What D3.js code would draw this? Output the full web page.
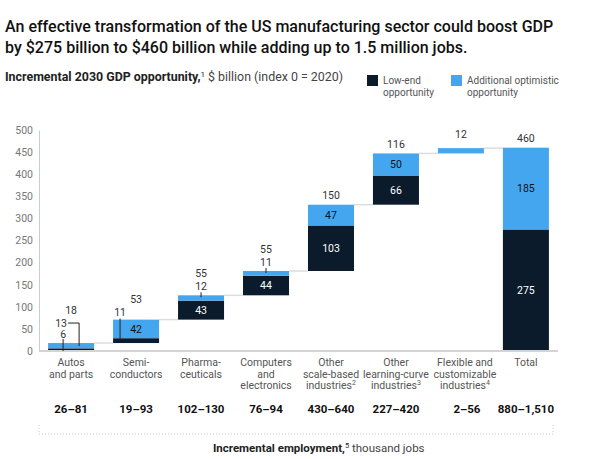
<!DOCTYPE html>
<html><head><meta charset="utf-8">
<script src="https://cdn.jsdelivr.net/npm/d3@7"></script>
<style>
body{margin:0;background:#fff;}
svg{display:block;font-family:Roboto,"Liberation Sans",Arial,sans-serif;}
</style></head>
<body><svg id="c" width="600" height="459"></svg>
<script>
// ---- data ----
const categories = ["Autos and parts","Semiconductors","Pharmaceuticals","Computers and electronics","Other scale-based industries","Other learning-curve industries","Flexible and customizable industries","Total"];
const categoryLines = [["Autos","and parts"],["Semi-","conductors"],["Pharma-","ceuticals"],["Computers","and","electronics"],["Other","scale-based","industries|2"],["Other","learning-curve","industries|3"],["Flexible and","customizable","industries|4"],["Total"]];
const lowEnd = [6, 11, 43, 44, 103, 66, 0, 275];
const optimistic = [13, 42, 12, 11, 47, 50, 12, 185];
const totals = [18, 53, 55, 55, 150, 116, 12, 460];
const employment = ["26–81","19–93","102–130","76–94","430–640","227–420","2–56","880–1,510"];
const yTicks = [0,50,100,150,200,250,300,350,400,450,500];

const DARK = "#0b1b2c", BLUE = "#45a6f0";
const svg = d3.select("#c");

// ---- titles ----
const title = svg.append("text").attr("x",5).attr("font-size",17).attr("font-weight",500).attr("fill","#111");
const t1 = title.append("tspan").attr("x",5).attr("y",32).text("An effective transformation of the US manufacturing sector could boost GDP");
title.append("tspan").attr("x",5).attr("y",53).text("by $275 billion to $460 billion while adding up to 1.5 million jobs.");
const w1 = t1.node().getComputedTextLength();
title.attr("font-size", 17*549/w1);

const sub = svg.append("text").attr("x",5).attr("y",81).attr("font-size",12.4).attr("fill","#222");
sub.append("tspan").attr("font-weight",700).text("Incremental 2030 GDP opportunity,");
sub.append("tspan").attr("font-size",8).attr("dy",-4).text("1");
sub.append("tspan").attr("dy",4).attr("fill","#444").text(" $ billion (index 0 = 2020)");

// legend
const legend = [{c:DARK,l:["Low-end","opportunity"],x:367},{c:BLUE,l:["Additional optimistic","opportunity"],x:451}];
legend.forEach(d=>{
  svg.append("rect").attr("x",d.x).attr("y",75).attr("width",11).attr("height",11).attr("fill",d.c);
  const t = svg.append("text").attr("font-size",10).attr("fill","#555");
  d.l.forEach((s,i)=>t.append("tspan").attr("x",d.x+16).attr("y",84+i*12).text(s));
});

// ---- scales ----
const x = d3.scaleBand().domain(categories).range([39,558]).paddingInner(0.292).paddingOuter(0.14);
const y = d3.scaleLinear().domain([0,500]).range([351,130]);

// y axis
const yAxis = svg.append("g").attr("transform","translate(39,0)")
  .call(d3.axisLeft(y).tickValues(yTicks).tickSize(0).tickPadding(6));
yAxis.select(".domain").attr("stroke","#ccc");
yAxis.selectAll("text").attr("font-size",10.5).attr("fill","#777").attr("font-family","Roboto,Arial,sans-serif");

// bases (waterfall)
const bases = totals.map((d,i)=> i===totals.length-1 ? 0 : d3.sum(totals.slice(0,i)));
const rows = categories.map((c,i)=>({c,i,base:bases[i],low:lowEnd[i],top:bases[i]+totals[i]}));

// connectors
svg.append("g").selectAll("line").data(rows.slice(0,-1)).join("line")
  .attr("x1",d=>x(d.c)+x.bandwidth()).attr("x2",d=>x(categories[d.i+1]))
  .attr("y1",d=>y(d.top)).attr("y2",d=>y(d.top))
  .attr("stroke","#ddd").attr("stroke-width",1.5);

// bars
const g = svg.append("g");
g.selectAll("rect.low").data(rows).join("rect").attr("class","low")
  .attr("x",d=>x(d.c)).attr("width",x.bandwidth())
  .attr("y",d=>y(d.base+d.low)).attr("height",d=>y(d.base)-y(d.base+d.low)).attr("fill",DARK);
g.selectAll("rect.opt").data(rows).join("rect").attr("class","opt")
  .attr("x",d=>x(d.c)).attr("width",x.bandwidth())
  .attr("y",d=>y(d.top)).attr("height",d=>y(d.base+d.low)-y(d.top)).attr("fill",BLUE);

// baseline
svg.append("line").attr("x1",39).attr("x2",558).attr("y1",351).attr("y2",351).attr("stroke","#d4d4d4").attr("stroke-width",2);

// ---- value labels ----
const L = svg.append("g").attr("font-size",10.5).attr("text-anchor","middle");
function lab(xp,yp,t,fill){L.append("text").attr("x",xp).attr("y",yp).attr("dy","0.35em").attr("fill",fill||"#333").text(t);}
function ln(x1,y1,x2,y2){L.append("line").attr("x1",x1).attr("y1",y1).attr("x2",x2).attr("y2",y2).attr("stroke","#222").attr("stroke-width",1);}
rows.forEach(d=>{
  const cx = x(d.c)+x.bandwidth()/2, i=d.i;
  const yTop = y(d.top), yMid = y(d.base+d.low);
  const hLow = y(d.base)-yMid, hOpt = yMid-yTop;
  if(i===0){
    lab(cx,yTop-33,totals[i]);
    lab(cx-10,yTop-20,optimistic[i]); ln(cx-3,yTop-20,cx+8,yTop-20); ln(cx+8,yTop-20,cx+8,yTop+3);
    lab(cx-8,yTop-8.5,lowEnd[i]); ln(cx-8,yTop-4,cx-8,y(0));
  } else if(i===1){
    lab(cx,yTop-20,totals[i]);
    lab(cx-16,yTop-7,lowEnd[i]); ln(cx-16,yTop-1,cx-16,yMid+2);
    lab(cx,(yTop+yMid)/2,optimistic[i],"#111");
  } else if(lowEnd[i]===0){
    lab(cx,yTop-14,totals[i]);
  } else {
    if(hOpt<16){
      lab(cx,yTop-22,totals[i]);
      lab(cx,yTop-9,optimistic[i]);
      ln(cx,yTop-3,cx,yTop+2);
    } else {
      lab(cx,yTop-9,totals[i]);
      lab(cx,(yTop+yMid)/2,optimistic[i],"#111");
    }
    if(hLow>14) lab(cx,(yMid+y(d.base))/2,lowEnd[i],"#fff");
  }
});

// ---- category labels ----
const C = svg.append("g").attr("font-size",10.5).attr("fill","#555").attr("text-anchor","middle");
categoryLines.forEach((lines,i)=>{
  const cx = x(categories[i])+x.bandwidth()/2 + (i===6?4:0);
  const t = C.append("text");
  lines.forEach((s,j)=>{
    const [txt,sup] = s.split("|");
    t.append("tspan").attr("x",cx).attr("y",366+j*11.5).text(txt);
    if(sup){ t.append("tspan").attr("font-size",7).attr("dy",-4).text(sup); }
  });
});
// employment
svg.append("g").attr("font-size",11.5).attr("font-weight",700).attr("fill","#111").attr("text-anchor","middle")
  .selectAll("text").data(employment).join("text")
  .attr("x",(d,i)=>x(categories[i])+x.bandwidth()/2 + (i===6?6:0)).attr("y",413).text(d=>d);

// dotted bracket
svg.append("path").attr("d","M39,425V434H553V425").attr("fill","none").attr("stroke","#ccc").attr("stroke-dasharray","1,2");

const ft = svg.append("text").attr("x",213).attr("y",452).attr("font-size",11.5).attr("fill","#222");
ft.append("tspan").attr("font-weight",700).text("Incremental employment,");
ft.append("tspan").attr("font-size",7.5).attr("dy",-4).text("5");
ft.append("tspan").attr("dy",4).attr("fill","#444").text(" thousand jobs");
</script></body></html>
